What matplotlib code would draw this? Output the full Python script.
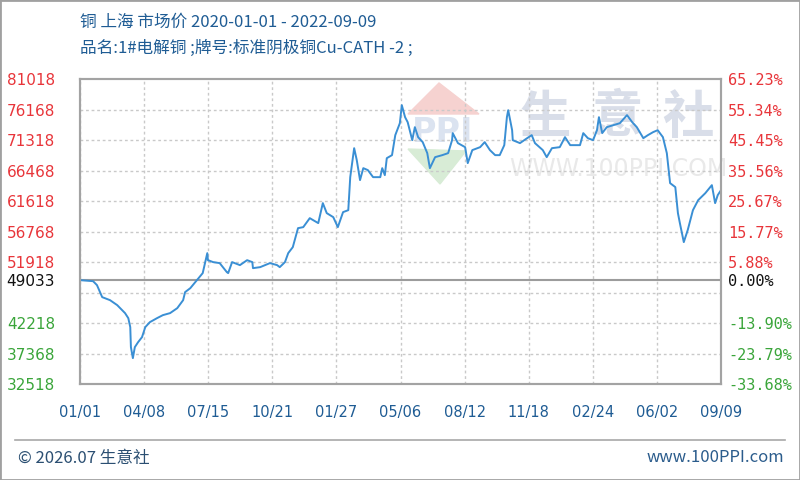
import matplotlib
matplotlib.use('Agg')
import matplotlib.pyplot as plt
import pandas as pd
from matplotlib.patches import Polygon, Rectangle
from matplotlib.lines import Line2D

plt.rcParams['font.family'] = ['Noto Sans CJK SC', 'DejaVu Sans']

# copper, Shanghai market price (yuan/ton)
dates = [
    '2020-01-01', '2020-01-21', '2020-01-27', '2020-02-04', '2020-02-16', '2020-02-27', '2020-03-10',
    '2020-03-15', '2020-03-18', '2020-03-19', '2020-03-22', '2020-03-25', '2020-03-30', '2020-04-05',
    '2020-04-10', '2020-04-17', '2020-04-28', '2020-05-07', '2020-05-18', '2020-05-29', '2020-06-07',
    '2020-06-10', '2020-06-18', '2020-06-28', '2020-07-07', '2020-07-14', '2020-07-15', '2020-07-23',
    '2020-08-02', '2020-08-13', '2020-08-15', '2020-08-21', '2020-09-02', '2020-09-13', '2020-09-21',
    '2020-09-22', '2020-10-03', '2020-10-18', '2020-10-29', '2020-11-02', '2020-11-10', '2020-11-15',
    '2020-11-22', '2020-11-30', '2020-12-08', '2020-12-18', '2020-12-31',
    '2021-01-07', '2021-01-13', '2021-01-23', '2021-01-30', '2021-02-07', '2021-02-15', '2021-02-18',
    '2021-02-24', '2021-02-28', '2021-03-05', '2021-03-10', '2021-03-17', '2021-03-25', '2021-04-05',
    '2021-04-08', '2021-04-12', '2021-04-15', '2021-04-23', '2021-04-28', '2021-05-05', '2021-05-08',
    '2021-05-13', '2021-05-17', '2021-05-24', '2021-05-28', '2021-06-02', '2021-06-09', '2021-06-16',
    '2021-06-20', '2021-06-28', '2021-07-09', '2021-07-18', '2021-07-24', '2021-07-25', '2021-08-02',
    '2021-08-13', '2021-08-17', '2021-08-24', '2021-09-05', '2021-09-12', '2021-09-20', '2021-09-28',
    '2021-10-05', '2021-10-12', '2021-10-16', '2021-10-18', '2021-10-24', '2021-10-25', '2021-11-05',
    '2021-11-16', '2021-11-23', '2021-11-28', '2021-12-10', '2021-12-16', '2021-12-24',
    '2022-01-05', '2022-01-13', '2022-01-21', '2022-02-05', '2022-02-10', '2022-02-17', '2022-02-25',
    '2022-03-03', '2022-03-06', '2022-03-11', '2022-03-18', '2022-03-28', '2022-04-07', '2022-04-18',
    '2022-04-26', '2022-05-03', '2022-05-13', '2022-05-20', '2022-05-28', '2022-06-04', '2022-06-12',
    '2022-06-18', '2022-06-23', '2022-07-01', '2022-07-05', '2022-07-08', '2022-07-14', '2022-07-20',
    '2022-07-28', '2022-08-05', '2022-08-16', '2022-08-26', '2022-08-31', '2022-09-04', '2022-09-09',
]
prices = [
    49033, 48870, 48240, 46330, 45850, 45060, 43790, 42990, 41560, 38380, 36630, 38380, 39170, 39970,
    41560, 42350, 42990, 43470, 43790, 44580, 45850, 47130, 47760, 49030, 50150, 53330, 52210, 51900,
    51740, 50300, 50150, 51900, 51420, 52210, 51900, 50940, 51100, 51740, 51420, 51100, 51900, 53330,
    54280, 57300, 57460, 58890, 58100,
    61280, 59690, 59050, 57460, 59850, 60160, 65410, 70020, 68120, 64940, 66840, 66530, 65410, 65410,
    66840, 65730, 68430, 68910, 72090, 73990, 76860, 74950, 74150, 71290, 73360, 71770, 70980, 69230,
    66840, 68590, 68910, 69230, 71290, 72410, 70820, 70180, 67640, 69710, 70180, 70980, 69710, 68910,
    68910, 70500, 74950, 76060, 72880, 71290, 70820, 71610, 72090, 70820, 69710, 68590, 70020,
    70180, 71770, 70500, 70500, 72410, 71610, 71290, 72880, 74950, 72410, 73360, 73680, 73990, 75270,
    74150, 73360, 71610, 72090, 72570, 72880, 71770, 69230, 64460, 63830, 59690, 58100, 55080, 56990,
    60160, 61750, 62870, 64140, 61280, 62550, 63340,
]

start_date = '2020-01-01'
end_date = '2022-09-09'
base_price = 49033

x_labels = ['01/01', '04/08', '07/15', '10/21', '01/27', '05/06', '08/12', '11/18', '02/24', '06/02', '09/09']
y_ticks = [32518, 37368, 42218, 49033, 51918, 56768, 61618, 66468, 71318, 76168, 81018]
pct_labels = ['-33.68%', '-23.79%', '-13.90%', '0.00%', '5.88%', '15.77%', '25.67%', '35.56%',
              '45.45%', '55.34%', '65.23%']
grid_vals = [37368, 42218, 47068, 51918, 56768, 61618, 66468, 71318, 76168]

title = '铜 上海 市场价 2020-01-01 - 2022-09-09'
subtitle = '品名:1#电解铜 ;牌号:标准阴极铜Cu-CATH -2 ;'

RED = '#e8353a'
GREEN = '#3aa53a'
BLUE_TXT = '#1f5c94'


def fxy(px, py):
    # pixel position -> figure fraction
    return px / 800, 1 - py / 480


fig = plt.figure(figsize=(8, 4.8), dpi=100)
ax = fig.add_axes([80 / 800, 1 - 384 / 480, 641 / 800, 305 / 480])
ax.set_zorder(2)
ax.set_facecolor('none')

# watermark (behind the plot)
roof = Polygon([fxy(408, 114), fxy(439, 83), fxy(479, 114)], closed=True,
               transform=fig.transFigure, color='#f6d2d0', zorder=-1)
vee = Polygon([fxy(408, 149), fxy(466, 151), fxy(440, 184)], closed=True,
              transform=fig.transFigure, color='#d8ecd6', zorder=-1)
fig.add_artist(roof)
fig.add_artist(vee)
fig.text(*fxy(443, 133), 'PPI', ha='center', va='center', fontsize=24, fontweight='bold',
         color='#dbe3f0', family='DejaVu Sans', zorder=-1)
for cx, ch in zip([545, 618, 688], '生意社'):
    fig.text(*fxy(cx, 117), ch, ha='center', va='center', fontsize=37, fontweight='bold',
             color='#d9dee9', zorder=-1)
fig.text(*fxy(618, 169), 'WWW.100PPI.COM', ha='center', va='center', fontsize=17,
         color='#e9e9e9', family='DejaVu Sans', zorder=-1)

ax.plot(pd.to_datetime(dates), prices, color='#3a8fd4', lw=1.4, zorder=3)
for g in grid_vals:
    ax.axhline(g, color='#c9c9c9', ls=(0, (2, 2)), lw=1, zorder=1)
ax.axhline(base_price, color='#9c9c9c', lw=1.5, zorder=2)

ax.set_xlim(pd.Timestamp(start_date), pd.Timestamp(end_date))
ax.set_ylim(y_ticks[0], y_ticks[-1])

ax.set_xticks(pd.date_range(start_date, end_date, periods=len(x_labels)))
ax.set_xticklabels(x_labels, color=BLUE_TXT, family='DejaVu Sans', fontsize=10.5)
ax.set_yticks(y_ticks)
ax.set_yticklabels([str(v) for v in y_ticks], family='DejaVu Sans', fontsize=11)
ax.tick_params(axis='both', which='both', length=0)
ax.tick_params(axis='y', pad=18)
ax.tick_params(axis='x', pad=15)
ax.grid(which='major', axis='x', color='#c9c9c9', ls=(0, (2, 2)), lw=1)

ax2 = ax.twinx()
ax2.set_ylim(ax.get_ylim())
ax2.set_yticks(y_ticks)
ax2.set_yticklabels(pct_labels, family='DejaVu Sans Mono', fontsize=11)
ax2.tick_params(axis='y', length=0, pad=5)

for lbls in (ax.get_yticklabels(), ax2.get_yticklabels()):
    for v, t in zip(y_ticks, lbls):
        t.set_color(RED if v > base_price else ('#111111' if v == base_price else GREEN))

for a in (ax, ax2):
    for s in a.spines.values():
        s.set_color('#a3a3a3')
        s.set_linewidth(1.5)

fig.text(*fxy(80, 22), title, ha='left', va='center', fontsize=12, color=BLUE_TXT)
fig.text(*fxy(80, 48), subtitle, ha='left', va='center', fontsize=12, color=BLUE_TXT)

fig.add_artist(Line2D([15 / 800, 785 / 800], [1 - 440 / 480] * 2, transform=fig.transFigure,
                      color='#a8a8a8', lw=1.2))
fig.text(*fxy(18, 458), '© 2026.07 生意社', ha='left', va='center', fontsize=12, color='#2b4f72')
fig.text(*fxy(784, 458), 'www.100PPI.com', ha='right', va='center', fontsize=12, color='#2b5c8c')

fig.add_artist(Rectangle((0, 0), 1, 1, transform=fig.transFigure, fill=False,
                         edgecolor='#a0a0a0', lw=2))

fig.savefig('out.png', dpi=100)
